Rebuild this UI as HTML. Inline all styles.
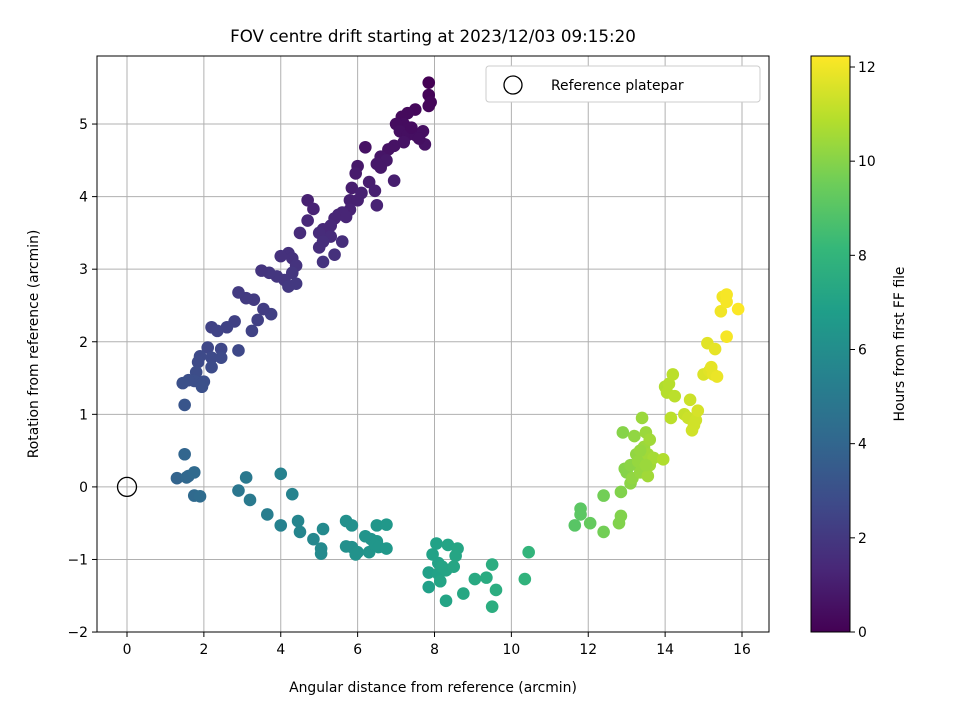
<!DOCTYPE html>
<html><head><meta charset="utf-8"><style>
body{margin:0;background:#fff;}
svg text{font-family:"DejaVu Sans","Liberation Sans",sans-serif;fill:#000;}
</style></head><body>
<svg id="chart" width="960" height="720" viewBox="0 0 960 720" xmlns="http://www.w3.org/2000/svg">
<defs><linearGradient id="vir" x1="0" y1="1" x2="0" y2="0"></linearGradient></defs>
<text x="433" y="42" font-size="16.7" text-anchor="middle">FOV centre drift starting at 2023/12/03 09:15:20</text>
<g id="grid"></g>
<g id="points"></g>
<g id="axes"></g>
<text x="433" y="692" font-size="13.9" text-anchor="middle">Angular distance from reference (arcmin)</text>
<text transform="translate(38,344) rotate(-90)" font-size="13.9" text-anchor="middle">Rotation from reference (arcmin)</text>
<g>
<rect x="486" y="66" width="274" height="36" rx="3" fill="#fff" stroke="#ccc"/>
<circle cx="513" cy="85" r="9" fill="none" stroke="#000" stroke-width="1.3"/>
<text x="551" y="90" font-size="13.9">Reference platepar</text>
</g>
<g id="cbar"></g>
<text transform="translate(904,344) rotate(-90)" font-size="13.9" text-anchor="middle">Hours from first FF file</text>
</svg>
<script>
const xTicks=[0,2,4,6,8,10,12,14,16];
const yTicks=[-2,-1,0,1,2,3,4,5];
const cTicks=[0,2,4,6,8,10,12];
const upperX=[7.85,7.85,7.9,7.85,7.5,7.3,7.15,7.2,7.0,7.1,7.3,7.5,7.7,7.75,7.6,7.4,7.2,6.95,6.8,6.6,6.75,6.5,6.6,6.2,6.95,6.0,5.95,6.3,5.85,6.1,6.45,5.8,6.0,6.5,5.8,5.6,5.5,5.7,5.4,5.3,5.1,5.0,5.3,5.1,5.6,5.0,5.4,5.1,4.7,4.85,4.7,4.5,4.2,4.3,4.0,4.4,4.3,4.1,3.9,3.7,3.5,4.4,4.2,3.75,3.55,3.4,3.3,3.1,2.9,2.8,3.25,2.6,2.2,2.35,2.45,2.1,2.9,2.2,2.45,1.9,1.85,2.2,1.8,1.75,2.0,1.6,1.45,1.95,1.5];
const upperY=[5.57,5.4,5.3,5.25,5.2,5.15,5.1,5.0,5.0,4.9,4.85,4.85,4.9,4.72,4.8,4.95,4.75,4.7,4.65,4.55,4.5,4.45,4.4,4.68,4.22,4.42,4.32,4.2,4.12,4.05,4.08,3.95,3.95,3.88,3.82,3.78,3.75,3.72,3.7,3.6,3.55,3.5,3.45,3.38,3.38,3.3,3.2,3.1,3.95,3.83,3.67,3.5,3.22,3.15,3.18,3.05,2.95,2.85,2.9,2.95,2.98,2.8,2.76,2.38,2.45,2.3,2.58,2.6,2.68,2.28,2.15,2.2,2.2,2.15,1.9,1.92,1.88,1.78,1.78,1.8,1.72,1.65,1.58,1.46,1.45,1.47,1.43,1.38,1.13];
const upperH=[0.0,0.1,0.2,0.2,0.25,0.3,0.3,0.4,0.4,0.5,0.5,0.5,0.5,0.6,0.5,0.4,0.6,0.6,0.6,0.7,0.8,0.8,0.8,0.6,1.0,0.8,0.9,1.0,1.0,1.1,1.05,1.1,1.1,1.2,1.2,1.3,1.3,1.3,1.3,1.4,1.4,1.5,1.5,1.6,1.6,1.6,1.7,1.8,1.1,1.2,1.35,1.5,1.7,1.7,1.7,1.8,1.9,1.9,1.9,1.9,1.85,2.0,2.0,2.3,2.2,2.3,2.1,2.1,2.1,2.35,2.4,2.4,2.4,2.45,2.6,2.6,2.65,2.7,2.7,2.7,2.75,2.8,2.85,2.95,2.95,2.95,3.0,3.0,3.2];
const lowerX=[1.3,1.5,1.55,1.6,1.75,1.75,1.9,3.1,2.9,3.2,3.65,4.0,4.0,4.3,4.45,4.5,4.85,5.1,5.05,5.05,5.7,5.85,5.7,5.85,6.0,5.95,6.2,6.35,6.3,6.5,6.5,6.45,6.55,6.75,6.75,7.85,7.85,7.95,8.05,8.1,8.1,8.15,8.2,8.35,8.3,8.5,8.3,8.55,8.6,8.75,9.05,9.35,9.5,9.5,9.6,10.35,10.45];
const lowerY=[0.12,0.45,0.13,0.15,0.2,-0.12,-0.13,0.13,-0.05,-0.18,-0.38,0.18,-0.53,-0.1,-0.47,-0.62,-0.72,-0.58,-0.85,-0.92,-0.47,-0.53,-0.82,-0.83,-0.9,-0.93,-0.68,-0.72,-0.9,-0.53,-0.75,-0.8,-0.83,-0.52,-0.85,-1.18,-1.38,-0.93,-0.78,-1.05,-1.2,-1.3,-1.1,-0.8,-1.15,-1.1,-1.57,-0.95,-0.85,-1.47,-1.27,-1.25,-1.07,-1.65,-1.42,-1.27,-0.9];
const lowerH=[3.9,4.0,4.1,4.1,4.2,4.2,4.3,4.9,4.8,5.0,5.2,5.4,5.4,5.5,5.6,5.6,5.7,5.8,5.8,5.8,6.1,6.1,6.1,6.1,6.2,6.2,6.3,6.3,6.3,6.4,6.4,6.4,6.4,6.5,6.5,6.9,6.9,7.0,7.0,7.0,7.0,7.1,7.1,7.1,7.1,7.2,7.1,7.2,7.2,7.3,7.4,7.5,7.6,7.6,7.6,7.9,8.0];
const rightX=[11.65,11.8,11.8,12.05,12.4,12.4,12.8,12.85,12.85,12.9,12.95,13.0,13.1,13.1,13.15,13.2,13.25,13.3,13.35,13.4,13.45,13.5,13.55,13.6,13.6,13.55,13.7,13.95,13.5,13.35,14.0,14.05,14.1,14.2,14.15,14.25,14.5,14.6,14.65,14.7,14.75,14.8,14.85,15.0,15.1,15.15,15.2,15.25,15.3,15.35,15.45,15.5,15.6,15.6,15.6,15.9];
const rightY=[-0.53,-0.38,-0.3,-0.5,-0.12,-0.62,-0.5,-0.4,-0.07,0.75,0.25,0.2,0.3,0.05,0.12,0.7,0.45,0.35,0.2,0.95,0.55,0.75,0.45,0.65,0.3,0.15,0.4,0.38,0.3,0.5,1.38,1.3,1.42,1.55,0.95,1.25,1.0,0.95,1.2,0.78,0.85,0.92,1.05,1.55,1.98,1.6,1.65,1.55,1.9,1.52,2.42,2.62,2.65,2.55,2.07,2.45];
const rightH=[9.0,9.1,9.1,9.3,9.6,9.6,9.9,9.9,9.9,10.0,10.0,10.0,10.1,10.1,10.2,10.2,10.2,10.3,10.3,10.4,10.4,10.4,10.5,10.5,10.5,10.5,10.6,10.8,10.4,10.3,10.8,10.9,10.9,11.0,11.0,11.0,11.2,11.3,11.3,11.4,11.4,11.4,11.5,11.6,11.7,11.7,11.8,11.8,11.8,11.9,12.0,12.0,12.1,12.1,12.1,12.2];

const NS="http://www.w3.org/2000/svg";
const L=97,R=769,T=56,B=632;
const sx=v=>127+v*(742-127)/16;
const sy=v=>486.9-v*(632-124)/7;
const cy=v=>632-v*(632-67)/12;
const VIR=[[68,1,84],[72,40,120],[62,74,137],[49,104,142],[38,130,142],[31,158,137],[53,183,121],[109,205,89],[180,222,44],[253,231,37]];
function vir(t){t=Math.max(0,Math.min(1,t));const p=t*(VIR.length-1);const i=Math.min(Math.floor(p),VIR.length-2);const f=p-i;const a=VIR[i],b=VIR[i+1];return `rgb(${Math.round(a[0]+(b[0]-a[0])*f)},${Math.round(a[1]+(b[1]-a[1])*f)},${Math.round(a[2]+(b[2]-a[2])*f)})`;}
const HMAX=12.23;
function mk(tag,attrs,parent){const e=document.createElementNS(NS,tag);for(const k in attrs)e.setAttribute(k,attrs[k]);parent.appendChild(e);return e;}
const grid=document.getElementById('grid'),axes=document.getElementById('axes'),pts=document.getElementById('points'),cb=document.getElementById('cbar');
xTicks.forEach(v=>{const x=sx(v);
 const g=mk('line',{x1:x,x2:x,y1:T,y2:B,stroke:'#b0b0b0','stroke-width':1},grid);
 
 
 const tk=mk('line',{x1:x,x2:x,y1:B,y2:B+5,stroke:'#000'},axes);
 
 
 const t=mk('text',{x:x,y:B+22,'font-size':13.9,'text-anchor':'middle'},axes);t.textContent=v;
 
 });
yTicks.forEach(v=>{const y=sy(v);
 const g=mk('line',{x1:L,x2:R,y1:y,y2:y,stroke:'#b0b0b0','stroke-width':1},grid);
 
 
 const tk=mk('line',{x1:L-5,x2:L,y1:y,y2:y,stroke:'#000'},axes);
 
 
 const t=mk('text',{x:L-9,y:y+5,'font-size':13.9,'text-anchor':'end'},axes);t.textContent=(v<0?'\u2212'+(-v):v);
 
 });
const fr=mk('rect',{x:L,y:T,width:R-L,height:B-T,fill:'none',stroke:'#000','stroke-width':1},axes);


function plot(X,Y,H,name){X.forEach((x,i)=>{const c=mk('circle',{cx:sx(x),cy:sy(Y[i]),r:6.3,fill:vir(H[i]/HMAX)},pts);
 
 });}
plot(upperX,upperY,upperH,'point-upper-branch');
plot(lowerX,lowerY,lowerH,'point-lower-branch');
plot(rightX,rightY,rightH,'point-right-branch');
const ref=mk('circle',{cx:sx(0),cy:sy(0),r:9.5,fill:'none',stroke:'#000','stroke-width':1.3},pts);


const grad=document.getElementById('vir');
VIR.forEach((c,i)=>{mk('stop',{offset:(i/(VIR.length-1)),'stop-color':`rgb(${c[0]},${c[1]},${c[2]})`},grad);});
const bar=mk('rect',{x:811,y:T,width:39,height:B-T,fill:'url(#vir)',stroke:'#000','stroke-width':1},cb);


cTicks.forEach(v=>{const y=cy(v);
 const tk=mk('line',{x1:850,x2:855,y1:y,y2:y,stroke:'#000'},cb);
 
 
 const t=mk('text',{x:858,y:y+5,'font-size':13.9},cb);t.textContent=v;
 
 });
</script>
</body></html>
